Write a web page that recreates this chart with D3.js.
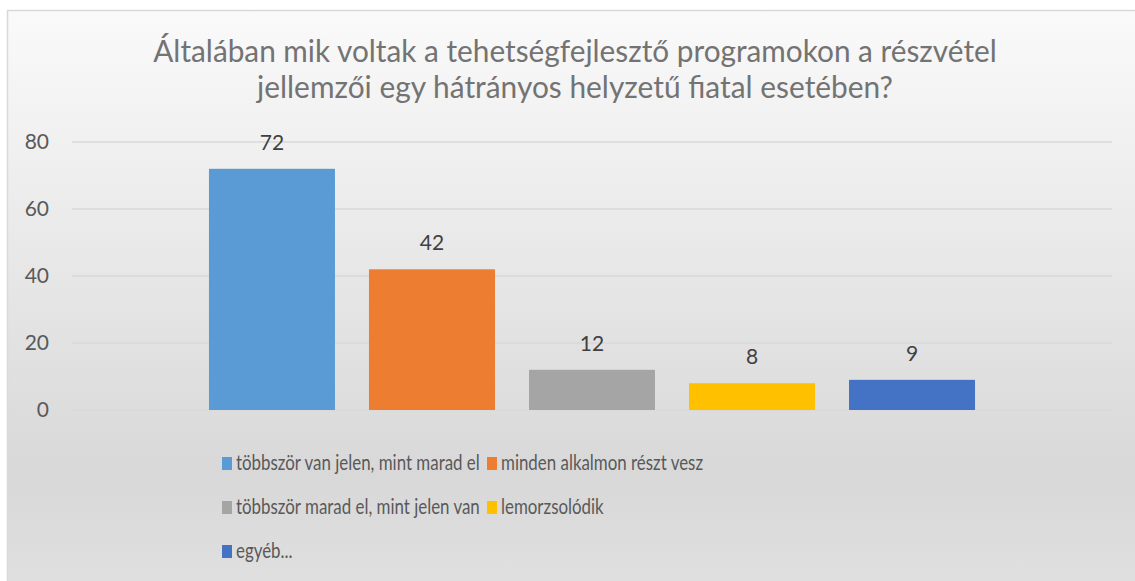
<!DOCTYPE html>
<html>
<head>
<meta charset="utf-8">
<script src="https://cdn.jsdelivr.net/npm/d3@7"></script>
<style>
  html, body { margin: 0; padding: 0; background: #fff; }
  svg { display: block; }
  text { font-family: Lato, "Open Sans", sans-serif; }
</style>
</head>
<body>
<div id="chart"></div>
<script>
// Chart data
const titleLines = [
    'Általában mik voltak a tehetségfejlesztő programokon a részvétel',
    'jellemzői egy hátrányos helyzetű fiatal esetében?'
];
const seriesNames = [
    'többször van jelen, mint marad el',
    'minden alkalmon részt vesz',
    'többször marad el, mint jelen van',
    'lemorzsolódik',
    'egyéb...'
];
const seriesValues = [72, 42, 12, 8, 9];
const seriesColors = ['#5b9bd5', '#ed7d31', '#a5a5a5', '#ffc000', '#4472c4'];
const yTicks = [0, 20, 40, 60, 80];

const width = 1135, height = 581;
const plot = { left: 72, right: 1112, top: 142, bottom: 410 };

const svg = d3.select('#chart').append('svg')
    .attr('width', width)
    .attr('height', height);

const grad = svg.append('defs').append('linearGradient')
    .attr('id', 'bg')
    .attr('x1', 0).attr('y1', 0).attr('x2', 0).attr('y2', 1);
grad.append('stop').attr('offset', '0%').attr('stop-color', '#fafafa');
grad.append('stop').attr('offset', '80%').attr('stop-color', '#d8d8d8');
grad.append('stop').attr('offset', '100%').attr('stop-color', '#e0e0e0');

svg.append('rect')
    .attr('x', 7.5).attr('y', 10.5)
    .attr('width', width).attr('height', height)
    .attr('fill', 'url(#bg)')
    .attr('stroke', '#d9d9d9')
    .attr('stroke-width', 1.5);

// squeeze a text horizontally (Calibri is narrower than the installed fonts)
function squeezeTo(sel, anchorX, ratio) {
    sel.attr('transform', `translate(${anchorX},0) scale(${ratio},1) translate(${-anchorX},0)`);
}

// Title
const titleTargets = [844, 636];
const titleBase = [62, 98];
titleLines.forEach((line, i) => {
    const t = svg.append('text')
        .attr('x', 575)
        .attr('y', titleBase[i])
        .attr('text-anchor', 'middle')
        .attr('font-size', 30)
        .attr('fill', '#737373')
        .text(line);
    squeezeTo(t, 575, titleTargets[i] / t.node().getComputedTextLength());
});

// Scales
const y = d3.scaleLinear().domain([0, 80]).range([plot.bottom, plot.top]);
const x = d3.scaleBand()
    .domain(seriesNames)
    .range([plot.left, plot.right])
    .paddingInner(0.2125)
    .paddingOuter(0.856);

// Gridlines
svg.append('g')
    .selectAll('line')
    .data(yTicks)
    .join('line')
    .attr('x1', plot.left).attr('x2', plot.right)
    .attr('y1', d => y(d)).attr('y2', d => y(d))
    .attr('stroke', '#d9d9d9')
    .attr('stroke-width', 1.5);

// Y axis labels
const yAxis = svg.append('g')
    .attr('transform', `translate(${plot.left},0)`)
    .call(d3.axisLeft(y).tickValues(yTicks).tickSize(0).tickPadding(23));
yAxis.select('.domain').remove();
yAxis.selectAll('text')
    .attr('font-family', 'Lato, "Open Sans", sans-serif')
    .attr('font-size', 21)
    .attr('fill', '#595959');

// Bars
svg.append('g')
    .selectAll('rect')
    .data(seriesValues)
    .join('rect')
    .attr('x', (d, i) => x(seriesNames[i]))
    .attr('y', d => y(d))
    .attr('width', x.bandwidth())
    .attr('height', d => y(0) - y(d))
    .attr('fill', (d, i) => seriesColors[i]);

// Data labels
svg.append('g')
    .selectAll('text')
    .data(seriesValues)
    .join('text')
    .attr('x', (d, i) => x(seriesNames[i]) + x.bandwidth() / 2)
    .attr('y', d => y(d) - 19)
    .attr('text-anchor', 'middle')
    .attr('font-size', 21)
    .attr('fill', '#404040')
    .text(d => d);

// Legend: two columns, three rows
const legendCols = [222, 487];
const legendRows = [463, 507, 551];
const legendFont = 21;
const legend = svg.append('g');
const probe = legend.append('text').attr('font-size', legendFont).text(seriesNames[0]);
const squeeze = 244 / probe.node().getComputedTextLength();
probe.remove();

seriesNames.forEach((name, i) => {
    const cx = legendCols[i % 2];
    const cy = legendRows[Math.floor(i / 2)];
    legend.append('rect')
        .attr('x', cx).attr('y', cy - 6)
        .attr('width', 10).attr('height', 13)
        .attr('fill', seriesColors[i]);
    const t = legend.append('text')
        .attr('x', cx + 14)
        .attr('y', cy)
        .attr('dy', '0.35em')
        .attr('font-size', legendFont)
        .attr('fill', '#595959')
        .text(name);
    squeezeTo(t, cx + 14, squeeze);
});
</script>
</body>
</html>
